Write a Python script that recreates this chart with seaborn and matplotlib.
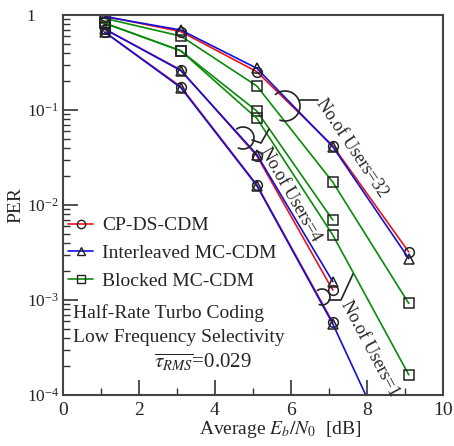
import numpy as np
import pandas as pd
import matplotlib
matplotlib.use("Agg")
import matplotlib.pyplot as plt
import seaborn as sns
from matplotlib.ticker import FixedLocator, FuncFormatter, NullFormatter
from matplotlib.lines import Line2D

# ---------------- data ----------------
snr = [1.1, 3.1, 5.1, 7.1, 9.1]
cp_32 = [0.97, 0.67, 0.253, 0.042, 0.0032]
il_32 = [0.96, 0.695, 0.275, 0.041, 0.00273]
bl_32 = [0.92, 0.60, 0.179, 0.0174, 0.00092]
cp_4 = [0.71, 0.264, 0.033, 0.00127]
il_4 = [0.71, 0.26, 0.034, 0.00156]
bl_4 = [0.82, 0.42, 0.0975, 0.00695]
cp_1 = [0.66, 0.176, 0.0163, 0.00058]
il_1 = [0.66, 0.172, 0.0160, 0.00056, 1.05e-5]
bl_1 = [0.82, 0.42, 0.0818, 0.00483, 0.000163]

series = [
    ("Blocked MC-CDM", "32", bl_32),
    ("Blocked MC-CDM", "4", bl_4),
    ("Blocked MC-CDM", "1", bl_1),
    ("CP-DS-CDM", "32", cp_32),
    ("CP-DS-CDM", "4", cp_4),
    ("CP-DS-CDM", "1", cp_1),
    ("Interleaved MC-CDM", "32", il_32),
    ("Interleaved MC-CDM", "4", il_4),
    ("Interleaved MC-CDM", "1", il_1),
]
colors = {"CP-DS-CDM": "#e8141b", "Interleaved MC-CDM": "#1010d8", "Blocked MC-CDM": "#0a8a0a"}
markers = {"CP-DS-CDM": "o", "Interleaved MC-CDM": "^", "Blocked MC-CDM": "s"}
legend_order = ["CP-DS-CDM", "Interleaved MC-CDM", "Blocked MC-CDM"]

rows = []
for scheme, users, vals in series:
    for xv, yv in zip(snr, vals):
        rows.append({"scheme": scheme, "users": users, "snr": xv, "per": yv})
df = pd.DataFrame(rows)

# ---------------- style ----------------
sns.set_style("ticks")
plt.rcParams["font.family"] = ["Liberation Serif", "DejaVu Serif"]
plt.rcParams["mathtext.fontset"] = "stix"

fig = plt.figure(figsize=(4.54, 4.46), dpi=100)
ax = fig.add_axes([63 / 454, 51 / 446, 380 / 454, 380 / 446])

for scheme, users, vals in series:
    sub = df[(df.scheme == scheme) & (df.users == users)]
    sns.lineplot(data=sub, x="snr", y="per", ax=ax, color=colors[scheme],
                 marker=markers[scheme], markersize=7, markerfacecolor="none",
                 markeredgecolor="#222222", markeredgewidth=1.1, linewidth=1.2,
                 estimator=None, sort=False, legend=False, clip_on=True)

ax.set_yscale("log")
ax.set_xlim(0, 10)
ax.set_ylim(1e-4, 1)

# ticks
ax.xaxis.set_major_locator(FixedLocator([0, 2, 4, 6, 8, 10]))
ax.xaxis.set_minor_locator(FixedLocator([1, 3, 5, 7, 9]))
ax.yaxis.set_major_locator(FixedLocator([1e-4, 1e-3, 1e-2, 1e-1, 1]))
minor = [m * 10.0 ** e for e in range(-4, 0) for m in range(2, 10)]
ax.yaxis.set_minor_locator(FixedLocator(minor))
ax.yaxis.set_minor_formatter(NullFormatter())


def yfmt(v, pos):
    e = int(round(np.log10(v)))
    if e == 0:
        return "1"
    return r"$\mathregular{10^{%d}}$" % e


ax.yaxis.set_major_formatter(FuncFormatter(yfmt))
ax.tick_params(which="major", direction="in", length=11, width=1.2,
               color="#333333")
ax.tick_params(axis="x", which="major", pad=5, labelsize=14)
ax.tick_params(axis="y", which="major", pad=26, labelsize=12.5)
for lab in ax.get_yticklabels():
    lab.set_horizontalalignment("left")
ax.tick_params(which="minor", direction="in", length=5, width=1.0, color="#333333")
for sp in ax.spines.values():
    sp.set_linewidth(1.5)
    sp.set_color("#444444")

ax.set_xlabel(r"Average $E_b/N_0$  [dB]", fontsize=14)
ax.xaxis.set_label_coords((280 - 63) / 380, -(430 - 395) / 380)
ax.xaxis.label.set_va("center")
ax.set_ylabel("PER", fontsize=14)
ax.yaxis.set_label_coords(-(63 - 16) / 380, 0.5)
ax.yaxis.label.set_va("center")

# legend
handles = [Line2D([0], [0], color=colors[s], marker=markers[s], markersize=6,
                  markerfacecolor="none", markeredgecolor="#222222", lw=1.2)
           for s in legend_order]
ax.legend(handles, legend_order, loc="upper left", bbox_to_anchor=(0.0, 0.4816),
          frameon=False, fontsize=14, handlelength=1.3, handletextpad=0.45,
          labelspacing=0.52, borderaxespad=0.0, borderpad=0.25)

# text block
ax.text(0.027, 0.216, "Half-Rate Turbo Coding", transform=ax.transAxes,
        fontsize=14, va="center", ha="left")
ax.text(0.027, 0.150, "Low Frequency Selectivity", transform=ax.transAxes,
        fontsize=14, va="center", ha="left")
ax.text(0.24, 0.086, r"$\overline{\tau_{RMS}}$=0.029", transform=ax.transAxes,
        fontsize=15, va="center", ha="left")


# bracket annotations (pixel-based positions converted to axes fraction)
def fx(px):
    return (px - 63) / 380.0


def fy(py):
    return (395 - py) / 380.0


def bracket(cx, cy, r, t0, t1, path, text, tx, ty, rot):
    th = np.radians(np.linspace(t0, t1, 60))
    ax.plot(fx(cx + r * np.cos(th)), fy(cy - r * np.sin(th)), color="#222222",
            lw=1.2, transform=ax.transAxes, clip_on=False)
    ax.plot([fx(p[0]) for p in path], [fy(p[1]) for p in path], color="#222222",
            lw=1.2, transform=ax.transAxes, clip_on=False)
    ax.text(fx(tx), fy(ty), text, transform=ax.transAxes, rotation=rot,
            rotation_mode="anchor", ha="left", va="center", fontsize=13)


bracket(285, 106, 15, -110, 130, [(300, 100), (318, 100)], "No.of Users=32", 320, 100, -56)
bracket(243, 138, 11, -115, 125, [(252, 140), (261, 143), (269, 129)], "No.of Users=4", 264, 149, -60)
bracket(322, 297, 8, -110, 125, [(329, 300), (341, 300), (353, 274)], "No.of Users=1", 345, 302, -62)

fig.savefig("out.png", dpi=100)
